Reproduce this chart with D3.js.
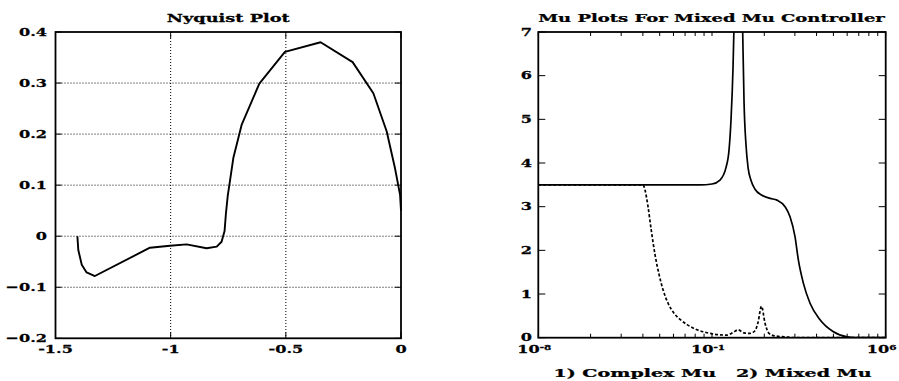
<!DOCTYPE html>
<html>
<head>
<meta charset="utf-8">
<script src="https://cdn.jsdelivr.net/npm/d3@7/dist/d3.min.js"></script>
<style>
  body { margin: 0; background: #fff; }
  svg { display: block; }
  text { font-family: "DejaVu Serif", serif; font-weight: bold; fill: #000; stroke: #000; stroke-width: 0.25px; }
</style>
</head>
<body>
<svg id="chart" width="899" height="381"></svg>
<script>
var nyqRe = [-1.405, -1.401, -1.386, -1.365, -1.329, -1.090, -1.003, -0.931, -0.844, -0.800, -0.779,
  -0.766, -0.760, -0.752, -0.742, -0.728, -0.692, -0.615, -0.504, -0.349, -0.210, -0.120, -0.062,
  -0.026, -0.004, 0];
var nyqIm = [0, -0.027, -0.056, -0.071, -0.078, -0.0225, -0.0186, -0.016, -0.0237, -0.0205, -0.0108,
  0.010, 0.045, 0.080, 0.110, 0.153, 0.218, 0.299, 0.361, 0.380, 0.341, 0.280, 0.205,
  0.133, 0.081, 0.05];
var nyqXTicks = [-1.5, -1, -0.5, 0];
var nyqYTicks = [-0.2, -0.1, 0, 0.1, 0.2, 0.3, 0.4];

// mu plots: frequency as log10 exponent
var solidExp = [-8, -1.483, -1.0, -0.677, -0.434, -0.313, -0.233, -0.152, -0.111, 0.06, 0.231, 0.291,
  0.372, 0.452, 0.573, 0.734, 1.016, 1.339, 1.621, 1.944, 2.145, 2.347, 2.480, 2.681, 2.951, 3.354,
  3.878, 4.443, 4.967, 6];
var solidMu = [3.5, 3.5, 3.52, 3.61, 3.9, 4.3, 5.0, 6.2, 7.2, 12, 7.2, 5.4,
  4.4, 3.9, 3.6, 3.4, 3.26, 3.19, 3.15, 3.0, 2.77, 2.31, 1.78, 1.25, 0.79, 0.41,
  0.14, 0.02, 0, 0];
var dashExp = [-8, -3.780, -3.699, -3.578, -3.457, -3.296, -3.135, -2.974, -2.778, -2.531, -2.289,
  -2.007, -1.685, -1.241, -0.758, -0.395, -0.153, 0.049, 0.291, 0.533, 0.734, 0.855, 0.996, 1.137,
  1.298, 1.540, 1.944, 2.347, 6];
var dashMu = [3.5, 3.5, 3.38, 3.0, 2.5, 1.9, 1.45, 1.1, 0.8, 0.56, 0.42,
  0.3, 0.2, 0.12, 0.07, 0.06, 0.12, 0.18, 0.11, 0.1, 0.16, 0.35, 0.72, 0.33,
  0.1, 0.04, 0.02, 0, 0];
var muYTicks = [0, 1, 2, 3, 4, 5, 6, 7];
var muMajorExp = [-8, -1, 6];
var minorMult = [2, 3, 4, 5, 6, 7, 8, 9];

var svg = d3.select('#chart');
var SX = 1.4; // the scanned lettering is wide

// text squeezed/stretched horizontally; optional width to fit
function label(g, x, y, str, anchor, size, width) {
  var wrap = g.append('g');
  var t = wrap.append('text')
    .attr('text-anchor', anchor)
    .style('font-size', size + 'px')
    .text(str);
  var sx = SX;
  if (width) sx = width / t.node().getComputedTextLength();
  wrap.attr('transform', 'translate(' + x + ',' + y + ') scale(' + sx + ',1)');
  return t;
}

// ---------- left: Nyquist ----------
var nx = d3.scaleLinear().domain([-1.5, 0]).range([55.5, 401]);
var ny = d3.scaleLinear().domain([-0.2, 0.4]).range([338.3, 32]);
var left = svg.append('g');

left.selectAll('.gx').data(nyqXTicks.slice(1, 3)).enter().append('line')
  .attr('x1', nx).attr('x2', nx).attr('y1', ny(0.4)).attr('y2', ny(-0.2))
  .attr('stroke', '#000').attr('stroke-width', 1).attr('stroke-dasharray', '1,2');
left.selectAll('.gy').data(nyqYTicks.slice(1, 6)).enter().append('line')
  .attr('y1', ny).attr('y2', ny).attr('x1', nx(-1.5)).attr('x2', nx(0))
  .attr('stroke', '#000').attr('stroke-width', 1).attr('stroke-dasharray', '1,2');

// inward ticks
nyqYTicks.forEach(function(v){
  left.append('line').attr('x1', nx(-1.5)).attr('x2', nx(-1.5) + 6).attr('y1', ny(v)).attr('y2', ny(v)).attr('stroke', '#000');
  left.append('line').attr('x1', nx(0)).attr('x2', nx(0) - 6).attr('y1', ny(v)).attr('y2', ny(v)).attr('stroke', '#000');
});
nyqXTicks.forEach(function(v){
  left.append('line').attr('x1', nx(v)).attr('x2', nx(v)).attr('y1', ny(-0.2)).attr('y2', ny(-0.2) - 6).attr('stroke', '#000');
  left.append('line').attr('x1', nx(v)).attr('x2', nx(v)).attr('y1', ny(0.4)).attr('y2', ny(0.4) + 6).attr('stroke', '#000');
});

left.append('rect').attr('x', nx(-1.5)).attr('y', ny(0.4))
  .attr('width', nx(0) - nx(-1.5)).attr('height', ny(-0.2) - ny(0.4))
  .attr('fill', 'none').attr('stroke', '#000').attr('stroke-width', 1.8);

var nyqLine = d3.line().x(function(d){ return nx(d[0]); }).y(function(d){ return ny(d[1]); });
left.append('path').datum(d3.zip(nyqRe, nyqIm))
  .attr('d', nyqLine).attr('fill', 'none').attr('stroke', '#000').attr('stroke-width', 1.9)
  .attr('stroke-linejoin', 'round');

nyqYTicks.forEach(function(v){
  label(left, 47, ny(v) + 4, v === 0 ? '0' : d3.format('.1f')(v), 'end', 11.5);
});
nyqXTicks.forEach(function(v){
  label(left, nx(v), 352.5, v === 0 ? '0' : String(v), 'middle', 11.5);
});
label(left, 228.3, 21.5, 'Nyquist Plot', 'middle', 11.5, 123);

// ---------- right: mu ----------
var mx = d3.scaleLog().domain([1e-8, 1e6]).range([538.3, 885.7]);
var my = d3.scaleLinear().domain([0, 7]).range([337.7, 32]);
var right = svg.append('g');

right.append('clipPath').attr('id', 'muclip').append('rect')
  .attr('x', mx(1e-8)).attr('y', my(7)).attr('width', mx(1e6) - mx(1e-8)).attr('height', my(0) - my(7));

muYTicks.forEach(function(v){
  right.append('line').attr('x1', mx(1e-8)).attr('x2', mx(1e-8) + 7).attr('y1', my(v)).attr('y2', my(v)).attr('stroke', '#000');
  right.append('line').attr('x1', mx(1e6)).attr('x2', mx(1e6) - 7).attr('y1', my(v)).attr('y2', my(v)).attr('stroke', '#000');
});

// ticks: one decade pattern stretched over each 7-decade step
var tickExp = [];
for (var i = 0; i < muMajorExp.length - 1; i++) {
  var a = muMajorExp[i], b = muMajorExp[i + 1];
  tickExp.push(a);
  minorMult.forEach(function(m){ tickExp.push(a + (b - a) * Math.log10(m)); });
}
tickExp.push(muMajorExp[muMajorExp.length - 1]);
tickExp.forEach(function(e){
  var x = mx(Math.pow(10, e));
  right.append('line').attr('x1', x).attr('x2', x).attr('y1', my(0)).attr('y2', my(0) - 4).attr('stroke', '#000');
  right.append('line').attr('x1', x).attr('x2', x).attr('y1', my(7)).attr('y2', my(7) + 4).attr('stroke', '#000');
});

right.append('rect').attr('x', mx(1e-8)).attr('y', my(7))
  .attr('width', mx(1e6) - mx(1e-8)).attr('height', my(0) - my(7))
  .attr('fill', 'none').attr('stroke', '#000').attr('stroke-width', 1.8);

var muLine = d3.line()
  .x(function(d){ return mx(Math.pow(10, d[0])); })
  .y(function(d){ return my(d[1]); })
  .curve(d3.curveMonotoneX);

right.append('path').datum(d3.zip(dashExp, dashMu)).attr('clip-path', 'url(#muclip)')
  .attr('d', muLine).attr('fill', 'none').attr('stroke', '#000').attr('stroke-width', 1.7)
  .attr('stroke-dasharray', '3,2');
right.append('path').datum(d3.zip(solidExp, solidMu)).attr('clip-path', 'url(#muclip)')
  .attr('d', muLine).attr('fill', 'none').attr('stroke', '#000').attr('stroke-width', 1.7);

muYTicks.forEach(function(v){
  label(right, 532, my(v) + 3.5, String(v), 'end', 11.5);
});
muMajorExp.forEach(function(e){
  var t = label(right, mx(Math.pow(10, e)) - 4, 353, '', 'middle', 11.5);
  t.append('tspan').text('10');
  t.append('tspan').attr('dy', -3).style('font-size', '7.5px').text(e < 0 ? '-' + Math.abs(e) : String(e));
});
label(right, 711.5, 21.5, 'Mu Plots For Mixed Mu Controller', 'middle', 11.5, 347);
label(right, 712.5, 377, '1) Complex Mu   2) Mixed Mu', 'middle', 11.5, 305).style('white-space', 'pre');
</script>
</body>
</html>
